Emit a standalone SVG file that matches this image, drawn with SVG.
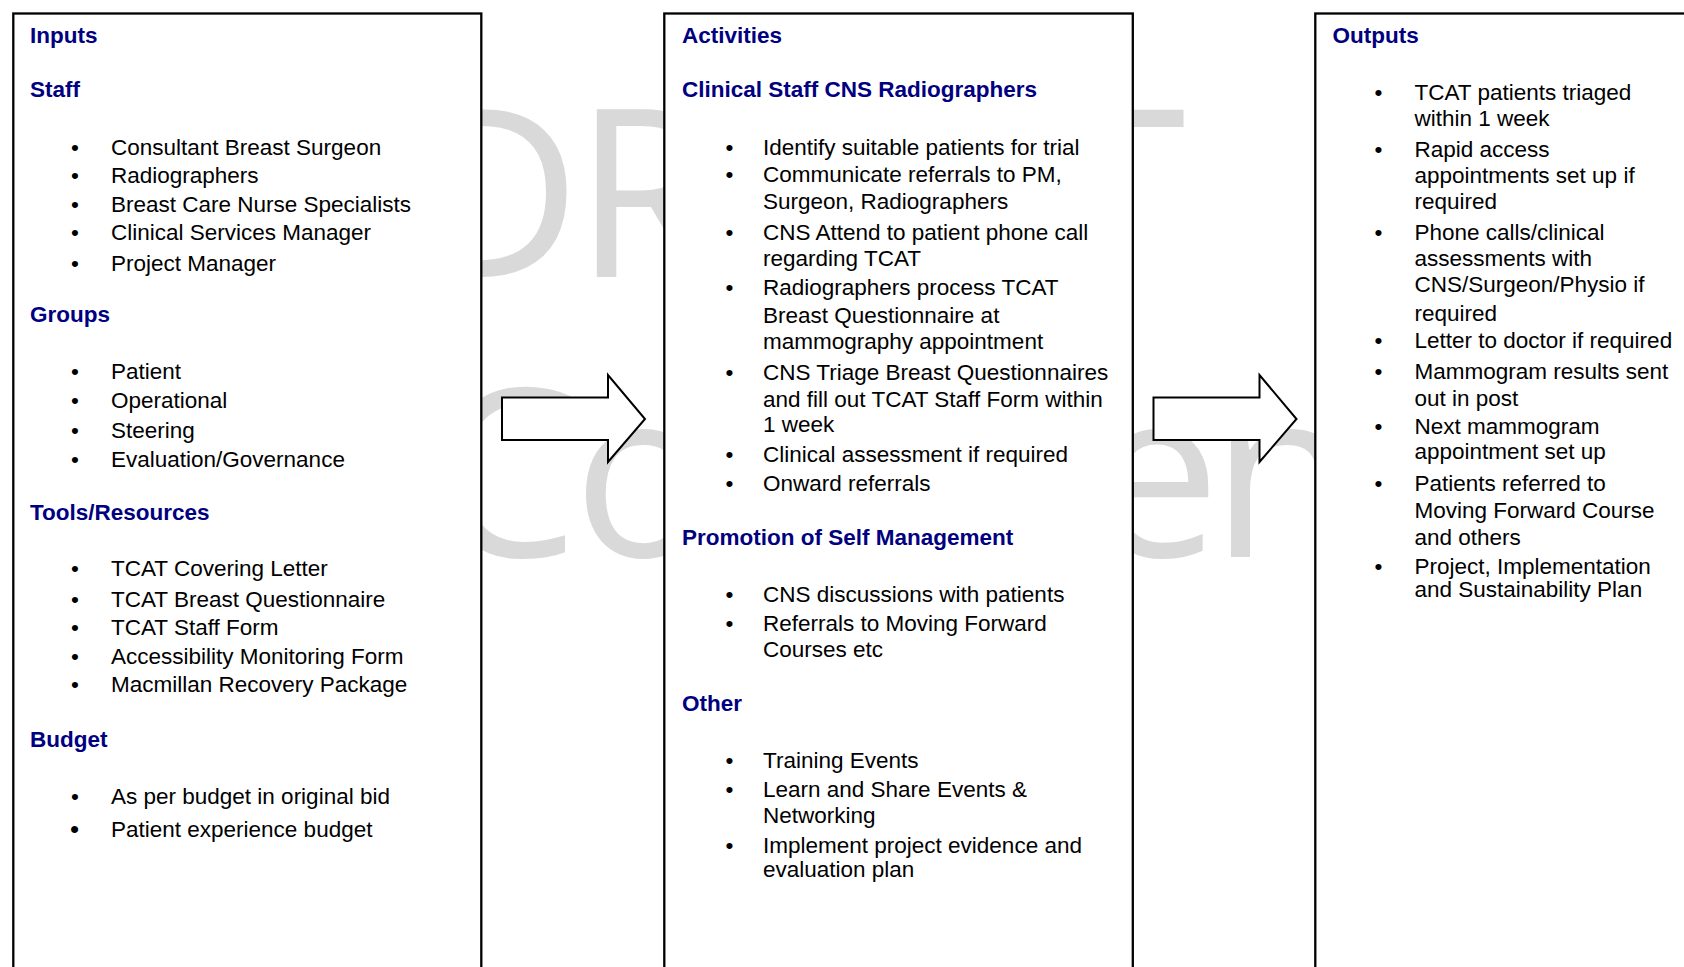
<svg xmlns="http://www.w3.org/2000/svg" width="1684" height="967" viewBox="0 0 1684 967">
<style>
.wm{font-family:"Open Sans","DejaVu Sans",sans-serif;font-size:234px;fill:#d9d9d9}
.box{fill:#fff;stroke:#000;stroke-width:2.3}
.arr{fill:#fff;stroke:#000;stroke-width:2}
.h{font-family:"Liberation Sans",Arial,sans-serif;font-size:22.5px;font-weight:bold;fill:#000080}
.t{font-family:"Liberation Sans",Arial,sans-serif;font-size:22.5px;fill:#000}
.b{font-family:"Liberation Sans",Arial,sans-serif;font-size:22.5px;fill:#000}
</style>
<rect width="1684" height="967" fill="#fff"/>
<g id="watermark">
<text class="wm" x="411 574" y="276.5">DR</text>
<text class="wm" x="1057" y="276.5">T</text>
<text class="wm" x="431 573" y="556.5">Co</text>
<text class="wm" x="1089 1211" y="556.5">en</text>
</g>
<g id="inputs">
<rect class="box" x="13.3" y="13.5" width="468" height="1000"/>
<text class="h" x="30" y="43">Inputs</text>
<text class="h" x="30" y="97">Staff</text>
<text class="b" x="71" y="155">•</text><text class="t" x="111" y="155">Consultant Breast Surgeon</text>
<text class="b" x="71" y="183">•</text><text class="t" x="111" y="183">Radiographers</text>
<text class="b" x="71" y="211.5">•</text><text class="t" x="111" y="211.5">Breast Care Nurse Specialists</text>
<text class="b" x="71" y="240">•</text><text class="t" x="111" y="240">Clinical Services Manager</text>
<text class="b" x="71" y="270.5">•</text><text class="t" x="111" y="270.5">Project Manager</text>
<text class="h" x="30" y="322">Groups</text>
<text class="b" x="71" y="379">•</text><text class="t" x="111" y="379">Patient</text>
<text class="b" x="71" y="408">•</text><text class="t" x="111" y="408">Operational</text>
<text class="b" x="71" y="438">•</text><text class="t" x="111" y="438">Steering</text>
<text class="b" x="71" y="467">•</text><text class="t" x="111" y="467">Evaluation/Governance</text>
<text class="h" x="30" y="520">Tools/Resources</text>
<text class="b" x="71" y="576">•</text><text class="t" x="111" y="576">TCAT Covering Letter</text>
<text class="b" x="71" y="606.5">•</text><text class="t" x="111" y="606.5">TCAT Breast Questionnaire</text>
<text class="b" x="71" y="635">•</text><text class="t" x="111" y="635">TCAT Staff Form</text>
<text class="b" x="71" y="664">•</text><text class="t" x="111" y="664">Accessibility Monitoring Form</text>
<text class="b" x="71" y="691.5">•</text><text class="t" x="111" y="691.5">Macmillan Recovery Package</text>
<text class="h" x="30" y="746.5">Budget</text>
<text class="b" x="71" y="804">•</text><text class="t" x="111" y="804">As per budget in original bid</text>
<text class="b" x="70" y="837.5" style="font-size:26px">•</text><text class="t" x="111" y="837">Patient experience budget</text>
</g>
<g id="activities">
<rect class="box" x="664.3" y="13.5" width="468.5" height="1000"/>
<text class="h" x="682" y="43">Activities</text>
<text class="h" x="682" y="97">Clinical Staff CNS Radiographers</text>
<text class="b" x="725.5" y="155">•</text><text class="t" x="763" y="155">Identify suitable patients for trial</text>
<text class="b" x="725.5" y="182">•</text><text class="t" x="763" y="182">Communicate referrals to PM,</text>
<text class="t" x="763" y="209">Surgeon, Radiographers</text>
<text class="b" x="725.5" y="240">•</text><text class="t" x="763" y="240">CNS Attend to patient phone call</text>
<text class="t" x="763" y="266">regarding TCAT</text>
<text class="b" x="725.5" y="295">•</text><text class="t" x="763" y="295">Radiographers process TCAT</text>
<text class="t" x="763" y="322.5">Breast Questionnaire at</text>
<text class="t" x="763" y="348.5">mammography appointment</text>
<text class="b" x="725.5" y="379.5">•</text><text class="t" x="763" y="379.5">CNS Triage Breast Questionnaires</text>
<text class="t" x="763" y="406.5">and fill out TCAT Staff Form within</text>
<text class="t" x="763" y="432">1 week</text>
<text class="b" x="725.5" y="461.5">•</text><text class="t" x="763" y="461.5">Clinical assessment if required</text>
<text class="b" x="725.5" y="490.5">•</text><text class="t" x="763" y="490.5">Onward referrals</text>
<text class="h" x="682" y="545">Promotion of Self Management</text>
<text class="b" x="725.5" y="601.5">•</text><text class="t" x="763" y="601.5">CNS discussions with patients</text>
<text class="b" x="725.5" y="631">•</text><text class="t" x="763" y="631">Referrals to Moving Forward</text>
<text class="t" x="763" y="656.5">Courses etc</text>
<text class="h" x="682" y="711">Other</text>
<text class="b" x="725.5" y="767.5">•</text><text class="t" x="763" y="767.5">Training Events</text>
<text class="b" x="725.5" y="796.5">•</text><text class="t" x="763" y="796.5">Learn and Share Events &amp;</text>
<text class="t" x="763" y="823">Networking</text>
<text class="b" x="725.5" y="852.5">•</text><text class="t" x="763" y="852.5">Implement project evidence and</text>
<text class="t" x="763" y="876.5">evaluation plan</text>
</g>
<g id="outputs">
<rect class="box" x="1315.3" y="13.5" width="420" height="1000"/>
<text class="h" x="1332.5" y="43">Outputs</text>
<text class="b" x="1374.5" y="100">•</text><text class="t" x="1414.5" y="100">TCAT patients triaged</text>
<text class="t" x="1414.5" y="126">within 1 week</text>
<text class="b" x="1374.5" y="157">•</text><text class="t" x="1414.5" y="157">Rapid access</text>
<text class="t" x="1414.5" y="183">appointments set up if</text>
<text class="t" x="1414.5" y="208.5">required</text>
<text class="b" x="1374.5" y="240">•</text><text class="t" x="1414.5" y="240">Phone calls/clinical</text>
<text class="t" x="1414.5" y="265.5">assessments with</text>
<text class="t" x="1414.5" y="291.5">CNS/Surgeon/Physio if</text>
<text class="t" x="1414.5" y="320.5">required</text>
<text class="b" x="1374.5" y="348">•</text><text class="t" x="1414.5" y="348">Letter to doctor if required</text>
<text class="b" x="1374.5" y="379">•</text><text class="t" x="1414.5" y="379">Mammogram results sent</text>
<text class="t" x="1414.5" y="405.5">out in post</text>
<text class="b" x="1374.5" y="433.5">•</text><text class="t" x="1414.5" y="433.5">Next mammogram</text>
<text class="t" x="1414.5" y="458.5">appointment set up</text>
<text class="b" x="1374.5" y="490.5">•</text><text class="t" x="1414.5" y="490.5">Patients referred to</text>
<text class="t" x="1414.5" y="517.5">Moving Forward Course</text>
<text class="t" x="1414.5" y="544.5">and others</text>
<text class="b" x="1374.5" y="574">•</text><text class="t" x="1414.5" y="574">Project, Implementation</text>
<text class="t" x="1414.5" y="596.5">and Sustainability Plan</text>
</g>
<g id="connectors">
<polygon class="arr" points="502,397.5 608,397.5 608,375 645,419 608,462 608,440 502,440"/>
<polygon class="arr" points="1153.5,397.5 1259.5,397.5 1259.5,375 1296.5,419 1259.5,462 1259.5,440 1153.5,440"/>
</g>
</svg>
